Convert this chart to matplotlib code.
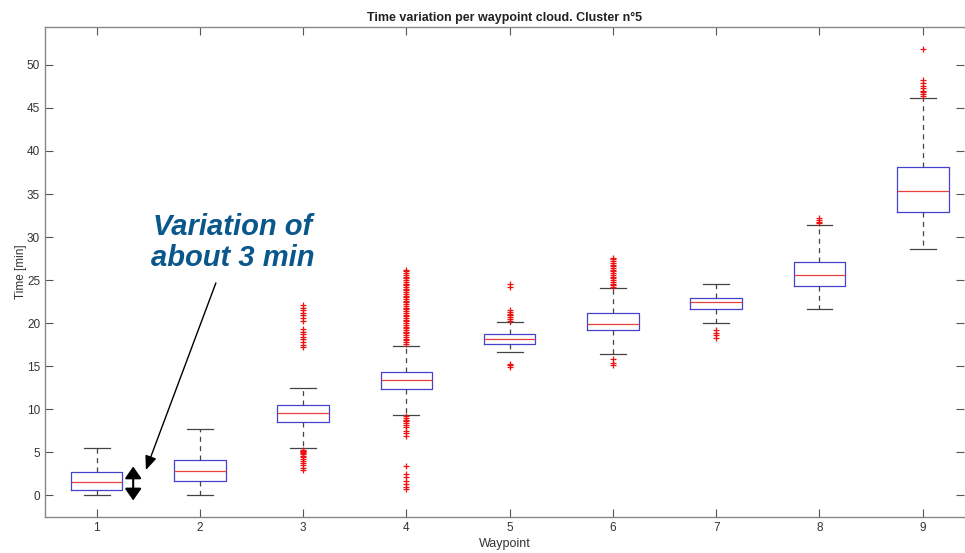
import matplotlib
matplotlib.use("Agg")
import matplotlib.pyplot as plt

plt.rcParams['font.family'] = ['Liberation Sans', 'DejaVu Sans']

# données
waypoints = [1, 2, 3, 4, 5, 6, 7, 8, 9]
whislo = [0.0, 0.0, 5.5, 9.37, 16.69, 16.4, 20.0, 21.65, 28.58]
q1 = [0.65, 1.63, 8.48, 12.35, 17.6, 19.17, 21.7, 24.35, 32.88]
med = [1.51, 2.82, 9.53, 13.4, 18.2, 19.9, 22.4, 25.6, 35.4]
q3 = [2.67, 4.07, 10.53, 14.36, 18.7, 21.15, 22.9, 27.15, 38.18]
whishi = [5.53, 7.67, 12.5, 17.3, 20.17, 24.05, 24.5, 31.4, 46.2]

fliers1 = []
fliers2 = []
fliers3 = [17.2, 17.5, 17.8, 18.1, 18.4, 18.7, 19.0, 19.3,
           20.3, 20.6, 20.9, 21.2, 21.5, 21.8, 22.1,
           2.9, 3.2, 3.5, 3.8, 4.0, 4.2, 4.4, 4.6, 4.8, 4.9, 5.0, 5.1, 5.2, 5.3]
fliers4 = [17.6, 17.8, 18.0, 18.2, 18.4, 18.6, 18.8, 19.0, 19.2, 19.4,
           19.6, 19.8, 20.0, 20.2, 20.4, 20.6, 20.8, 21.0, 21.2, 21.4,
           21.6, 21.8, 22.0, 22.2, 22.4, 22.6, 22.8, 23.0, 23.2, 23.4,
           23.6, 23.8, 24.0, 24.2, 24.4, 24.6, 24.8, 25.0, 25.2, 25.4,
           25.6, 25.8, 26.0, 26.2,
           9.2, 9.0, 8.8, 8.6, 8.4, 8.2, 7.9, 7.5, 7.2, 6.9,
           3.4, 2.5, 2.1, 1.7, 1.3, 1.0, 0.7]
fliers5 = [20.3, 20.5, 20.7, 20.9, 21.1, 21.3, 21.5, 24.2, 24.5,
           14.9, 15.1, 15.3]
fliers6 = [24.2, 24.4, 24.6, 24.8, 25.0, 25.2, 25.4, 25.6, 25.8, 26.0,
           26.2, 26.4, 26.6, 26.8, 27.0, 27.2, 27.4, 27.6,
           15.1, 15.4, 15.8]
fliers7 = [18.3, 18.6, 18.9, 19.2]
fliers8 = [31.6, 31.8, 32.0, 32.2]
fliers9 = [46.4, 46.6, 46.8, 47.0, 47.3, 47.6, 47.9, 48.2, 51.9]
fliers = [fliers1, fliers2, fliers3, fliers4, fliers5, fliers6, fliers7, fliers8, fliers9]

stats = []
for i in range(len(waypoints)):
    stats.append({'whislo': whislo[i], 'q1': q1[i], 'med': med[i], 'q3': q3[i],
                  'whishi': whishi[i], 'fliers': fliers[i], 'label': str(waypoints[i])})

fig = plt.figure(figsize=(9.65, 5.53), dpi=100)
ax = fig.add_axes([45 / 965, 1 - 517 / 553, 919 / 965, 490 / 553])

ax.bxp(stats, positions=waypoints, widths=0.5, capwidths=0.25,
       boxprops=dict(color='#4343cf', linewidth=0.9),
       medianprops=dict(color='#e8403a', linewidth=0.9),
       whiskerprops=dict(color='#444444', linewidth=0.9, linestyle=(0, (4, 3.5))),
       capprops=dict(color='#444444', linewidth=0.9),
       flierprops=dict(marker='+', markeredgecolor='#ee1111', markersize=5, markeredgewidth=0.9))

ax.set_xlim(0.5, 9.4)
ax.set_ylim(-2.52, 54.4)
ax.set_yticks([0, 5, 10, 15, 20, 25, 30, 35, 40, 45, 50])
ax.set_xticks(waypoints)
ax.set_xticklabels([str(w) for w in waypoints])

ax.tick_params(direction='in', length=6, width=0.8, colors='#555555',
               labelcolor='#333333', labelsize=8.5, top=True, right=True)
for s in ['left', 'bottom', 'top']:
    ax.spines[s].set_color('#888888')
    ax.spines[s].set_linewidth(1.0)
ax.spines['right'].set_visible(False)

ax.set_title("Time variation per waypoint cloud. Cluster n°5", fontsize=9,
             fontweight='bold', color='#222222', pad=4)
ax.set_xlabel("Waypoint", fontsize=9, color='#333333', labelpad=3)
ax.set_ylabel("Time [min]", fontsize=8.5, color='#333333', labelpad=0)

# annotation
ax.text(2.32, 29.4, "Variation of\nabout 3 min", fontsize=21, fontweight='bold',
        fontstyle='italic', color='#0a578c', ha='center', va='center', linespacing=1.15)
ax.annotate("", xy=(1.477, 2.94), xytext=(2.155, 24.67),
            arrowprops=dict(arrowstyle='-|>,head_length=0.85,head_width=0.35',
                            color='black', lw=1.0, mutation_scale=10, shrinkA=0, shrinkB=0))
ax.annotate("", xy=(1.354, -0.6), xytext=(1.354, 3.35),
            arrowprops=dict(arrowstyle='<|-|>,head_length=0.72,head_width=0.5',
                            color='black', lw=1.5, mutation_scale=10, shrinkA=0, shrinkB=0))

fig.savefig("out.png", dpi=100)
